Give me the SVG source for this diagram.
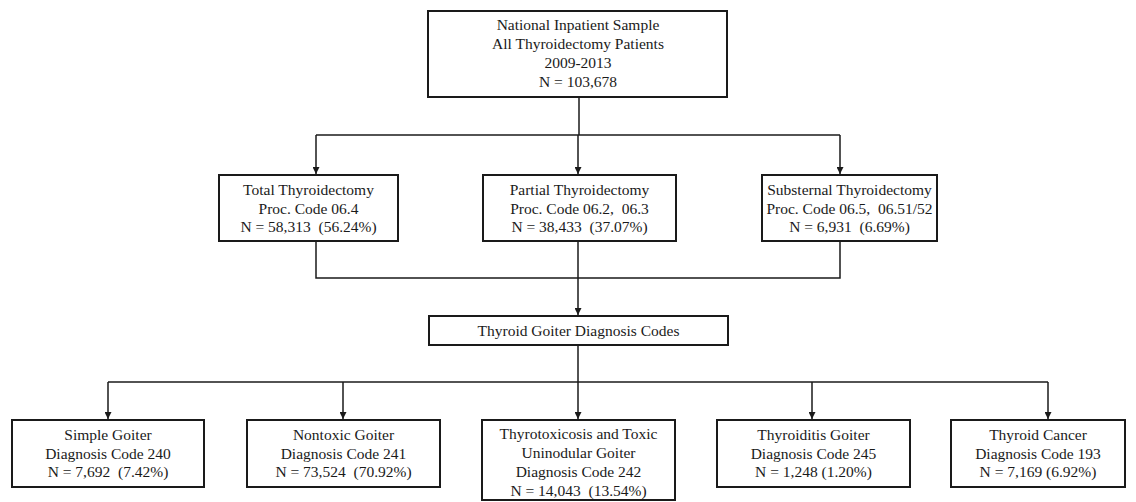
<svg xmlns="http://www.w3.org/2000/svg" width="1136" height="502" viewBox="0 0 1136 502">
<style>
.box{fill:#fff;stroke:#1a1a1a;stroke-width:2}
.t{font-family:"Liberation Serif","Times New Roman",serif;font-size:15.5px;fill:#1a1a1a;text-anchor:middle;white-space:pre}
.c{fill:none;stroke:#1a1a1a;stroke-width:1.5}
</style>
<defs>
<marker id="ah" viewBox="0 0 10 10" refX="10" refY="5" markerWidth="7" markerHeight="7" markerUnits="userSpaceOnUse" orient="auto">
<path d="M0,0 L10,5 L0,10 z" fill="#1a1a1a"/>
</marker>
</defs>
<g id="connectors">
<path class="c" d="M579,97 V135"/>
<path class="c" d="M316,135 H840"/>
<path class="c" d="M316,135 V174" marker-end="url(#ah)"/>
<path class="c" d="M578,135 V174" marker-end="url(#ah)"/>
<path class="c" d="M840,135 V174" marker-end="url(#ah)"/>
<path class="c" d="M316,241 V278 H840 V241"/>
<path class="c" d="M578,241 V315" marker-end="url(#ah)"/>
<path class="c" d="M578,345 V382"/>
<path class="c" d="M108,382 H1048"/>
<path class="c" d="M108,382 V419" marker-end="url(#ah)"/>
<path class="c" d="M343,382 V419" marker-end="url(#ah)"/>
<path class="c" d="M578,382 V419" marker-end="url(#ah)"/>
<path class="c" d="M812,382 V419" marker-end="url(#ah)"/>
<path class="c" d="M1048,382 V419" marker-end="url(#ah)"/>
</g>
<g id="n-top">
<rect class="box" x="428" y="11" width="299" height="86"/>
<text class="t" x="578" y="30">National Inpatient Sample</text>
<text class="t" x="578" y="49">All Thyroidectomy Patients</text>
<text class="t" x="578" y="68">2009-2013</text>
<text class="t" x="578" y="87">N = 103,678</text>
</g>
<g id="n-total">
<rect class="box" x="219" y="175" width="179" height="66"/>
<text class="t" x="308.5" y="195">Total Thyroidectomy</text>
<text class="t" x="308.5" y="214">Proc. Code 06.4</text>
<text class="t" x="308.5" y="232" xml:space="preserve">N = 58,313  (56.24%)</text>
</g>
<g id="n-partial">
<rect class="box" x="483" y="175" width="193" height="66"/>
<text class="t" x="579.5" y="195">Partial Thyroidectomy</text>
<text class="t" x="579.5" y="214" xml:space="preserve">Proc. Code 06.2,  06.3</text>
<text class="t" x="579.5" y="232" xml:space="preserve">N = 38,433  (37.07%)</text>
</g>
<g id="n-substernal">
<rect class="box" x="762" y="175" width="175" height="66"/>
<text class="t" x="849.5" y="195">Substernal Thyroidectomy</text>
<text class="t" x="849.5" y="214" xml:space="preserve">Proc. Code 06.5,  06.51/52</text>
<text class="t" x="849.5" y="232" xml:space="preserve">N = 6,931  (6.69%)</text>
</g>
<g id="n-goiter">
<rect class="box" x="429" y="316" width="299" height="29"/>
<text class="t" x="578.5" y="336">Thyroid Goiter Diagnosis Codes</text>
</g>
<g id="n-240">
<rect class="box" x="12" y="420" width="192" height="67"/>
<text class="t" x="108" y="440">Simple Goiter</text>
<text class="t" x="108" y="459">Diagnosis Code 240</text>
<text class="t" x="108" y="477" xml:space="preserve">N = 7,692  (7.42%)</text>
</g>
<g id="n-241">
<rect class="box" x="247" y="420" width="193" height="67"/>
<text class="t" x="343.5" y="440">Nontoxic Goiter</text>
<text class="t" x="343.5" y="459">Diagnosis Code 241</text>
<text class="t" x="343.5" y="477" xml:space="preserve">N = 73,524  (70.92%)</text>
</g>
<g id="n-242">
<rect class="box" x="482" y="420" width="193" height="80"/>
<text class="t" x="578.5" y="439">Thyrotoxicosis and Toxic</text>
<text class="t" x="578.5" y="458">Uninodular Goiter</text>
<text class="t" x="578.5" y="477">Diagnosis Code 242</text>
<text class="t" x="578.5" y="496" xml:space="preserve">N = 14,043  (13.54%)</text>
</g>
<g id="n-245">
<rect class="box" x="717" y="420" width="193" height="67"/>
<text class="t" x="813.5" y="440">Thyroiditis Goiter</text>
<text class="t" x="813.5" y="459">Diagnosis Code 245</text>
<text class="t" x="813.5" y="477">N = 1,248 (1.20%)</text>
</g>
<g id="n-193">
<rect class="box" x="951" y="420" width="174" height="67"/>
<text class="t" x="1038" y="440">Thyroid Cancer</text>
<text class="t" x="1038" y="459">Diagnosis Code 193</text>
<text class="t" x="1038" y="477">N = 7,169 (6.92%)</text>
</g>
</svg>
